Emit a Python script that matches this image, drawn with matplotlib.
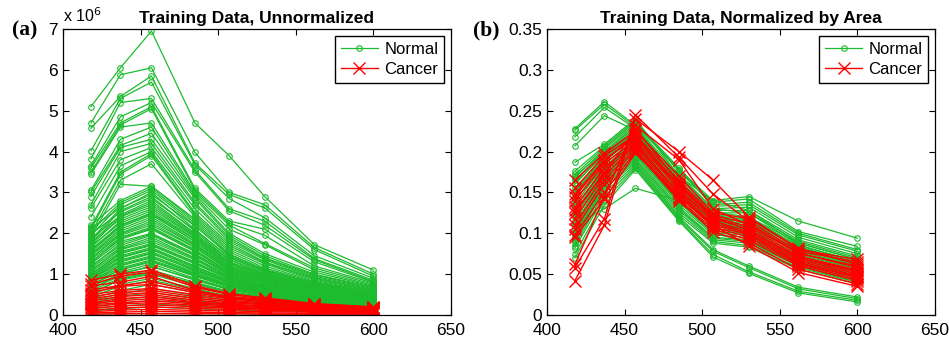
import numpy as np
import matplotlib
matplotlib.use("Agg")
import matplotlib.pyplot as plt

plt.rcParams['font.family'] = ['Liberation Sans', 'DejaVu Sans']

# wavelengths (nm)
wl = [418, 437, 457, 485, 507, 530, 562, 600]

# panel (a): raw intensities, units of 1e6
normal_raw = [
    [5.10, 6.05, 6.95, 4.70, 3.90, 2.90, 1.72, 1.10],
    [4.70, 5.88, 6.05, 3.98, 3.00, 2.70, 1.65, 1.00],
    [4.57, 5.35, 5.85, 3.72, 2.95, 2.62, 1.60, 0.95],
    [4.02, 5.30, 5.70, 3.68, 2.85, 2.38, 1.45, 0.90],
    [3.82, 5.20, 5.30, 3.55, 2.60, 2.30, 1.38, 0.85],
    [3.65, 4.85, 5.20, 3.50, 2.55, 2.20, 1.35, 0.82],
    [3.60, 4.70, 5.10, 3.10, 2.30, 2.10, 1.30, 0.80],
    [3.50, 4.65, 5.05, 3.05, 2.25, 1.95, 1.20, 0.78],
    [3.45, 4.60, 4.70, 3.00, 2.20, 1.75, 1.15, 0.75],
    [3.05, 4.30, 4.60, 2.95, 2.10, 1.72, 1.10, 0.72],
    [3.00, 4.15, 4.45, 2.90, 2.00, 1.50, 1.05, 0.70],
    [2.90, 4.10, 4.30, 2.85, 1.95, 1.45, 1.00, 0.68],
    [2.70, 4.00, 4.20, 2.75, 1.90, 1.40, 0.98, 0.66],
    [2.62, 3.80, 4.10, 2.70, 1.85, 1.38, 0.95, 0.64],
    [2.40, 3.65, 4.00, 2.60, 1.80, 1.35, 0.92, 0.62],
    [2.15, 3.50, 3.95, 2.50, 1.75, 1.30, 0.90, 0.60],
    [2.10, 3.45, 3.90, 2.45, 1.70, 1.28, 0.88, 0.58],
    [2.00, 3.30, 3.70, 2.40, 1.65, 1.25, 0.85, 0.56],
    [1.90, 3.20, 3.15, 2.35, 1.60, 1.20, 0.82, 0.55],
    [2.20, 2.80, 3.15, 2.30, 1.55, 1.15, 0.80, 0.54],
    [2.05, 2.75, 3.10, 2.25, 1.50, 1.10, 0.78, 0.52],
    [1.95, 2.70, 3.05, 2.20, 1.45, 1.08, 0.76, 0.50],
    [1.85, 2.60, 3.00, 2.10, 1.40, 1.05, 0.74, 0.49],
    [1.80, 2.55, 2.90, 2.05, 1.35, 1.02, 0.72, 0.48],
    [1.75, 2.45, 2.80, 2.00, 1.30, 1.00, 0.70, 0.47],
    [1.70, 2.40, 2.70, 1.95, 1.28, 0.98, 0.68, 0.46],
    [1.65, 2.30, 2.60, 1.90, 1.25, 0.95, 0.66, 0.45],
    [1.60, 2.20, 2.50, 1.85, 1.20, 0.92, 0.64, 0.44],
    [1.55, 2.15, 2.45, 1.80, 1.18, 0.90, 0.62, 0.43],
    [1.50, 2.10, 2.40, 1.75, 1.15, 0.88, 0.60, 0.42],
    [1.45, 2.00, 2.30, 1.70, 1.12, 0.85, 0.58, 0.41],
    [1.40, 1.95, 2.20, 1.65, 1.10, 0.82, 0.56, 0.40],
    [1.35, 1.90, 2.15, 1.60, 1.05, 0.80, 0.55, 0.38],
    [1.30, 1.85, 2.10, 1.55, 1.02, 0.78, 0.53, 0.37],
    [1.25, 1.80, 2.00, 1.50, 1.00, 0.75, 0.52, 0.36],
    [1.20, 1.70, 1.95, 1.45, 0.98, 0.72, 0.50, 0.35],
    [1.15, 1.65, 1.90, 1.40, 0.95, 0.70, 0.48, 0.34],
    [1.10, 1.60, 1.80, 1.35, 0.92, 0.68, 0.47, 0.33],
    [1.05, 1.55, 1.75, 1.30, 0.90, 0.66, 0.46, 0.32],
    [1.00, 1.50, 1.70, 1.25, 0.88, 0.64, 0.45, 0.31],
    [0.98, 1.45, 1.65, 1.20, 0.85, 0.62, 0.44, 0.30],
    [0.95, 1.40, 1.60, 1.15, 0.82, 0.60, 0.42, 0.29],
    [0.92, 1.35, 1.55, 1.12, 0.80, 0.58, 0.41, 0.28],
    [0.90, 1.30, 1.50, 1.10, 0.78, 0.56, 0.40, 0.27],
    [0.88, 1.25, 1.45, 1.05, 0.75, 0.55, 0.38, 0.26],
    [0.85, 1.20, 1.40, 1.00, 0.72, 0.53, 0.37, 0.25],
    [0.82, 1.15, 1.35, 0.98, 0.70, 0.52, 0.36, 0.24],
    [0.80, 1.10, 1.30, 0.95, 0.68, 0.50, 0.35, 0.23],
    [0.75, 1.05, 1.25, 0.90, 0.65, 0.48, 0.33, 0.22],
    [0.70, 1.00, 1.20, 0.85, 0.62, 0.46, 0.32, 0.21],
    [0.65, 0.95, 1.10, 0.80, 0.58, 0.44, 0.30, 0.20],
    [0.60, 0.90, 1.05, 0.75, 0.55, 0.42, 0.28, 0.19],
    [0.55, 0.85, 1.00, 0.70, 0.50, 0.40, 0.26, 0.18],
    [0.50, 0.75, 0.90, 0.65, 0.45, 0.36, 0.24, 0.17],
    [0.40, 0.60, 0.75, 0.55, 0.40, 0.32, 0.22, 0.15],
    [0.30, 0.45, 0.55, 0.42, 0.32, 0.26, 0.18, 0.13],
    [0.20, 0.30, 0.35, 0.30, 0.22, 0.18, 0.14, 0.10],
    [0.10, 0.15, 0.20, 0.15, 0.12, 0.10, 0.08, 0.06],
    [0.02, 0.03, 0.04, 0.03, 0.03, 0.02, 0.02, 0.02],
    [2.12, 2.62, 2.95, 2.18, 1.48, 1.12, 0.77, 0.51],
    [1.98, 2.52, 2.85, 2.08, 1.42, 1.06, 0.73, 0.49],
    [1.88, 2.42, 2.75, 1.98, 1.36, 1.01, 0.70, 0.47],
    [1.78, 2.35, 2.65, 1.92, 1.30, 0.97, 0.67, 0.45],
    [1.68, 2.25, 2.55, 1.86, 1.24, 0.93, 0.65, 0.44],
    [1.58, 2.18, 2.48, 1.80, 1.19, 0.91, 0.63, 0.43],
    [1.48, 2.05, 2.35, 1.72, 1.14, 0.86, 0.59, 0.41],
    [1.38, 1.98, 2.25, 1.66, 1.08, 0.82, 0.57, 0.40],
    [1.28, 1.88, 2.12, 1.58, 1.04, 0.79, 0.54, 0.38],
    [1.18, 1.75, 1.98, 1.48, 0.99, 0.74, 0.51, 0.36],
    [1.08, 1.62, 1.85, 1.38, 0.94, 0.69, 0.48, 0.34],
    [0.99, 1.52, 1.72, 1.28, 0.89, 0.65, 0.46, 0.32],
    [0.93, 1.42, 1.62, 1.18, 0.84, 0.61, 0.43, 0.30],
    [0.87, 1.32, 1.52, 1.08, 0.79, 0.57, 0.40, 0.28],
    [0.81, 1.22, 1.42, 1.02, 0.74, 0.54, 0.38, 0.26],
    [0.72, 1.12, 1.32, 0.96, 0.69, 0.51, 0.36, 0.24],
    [0.62, 1.02, 1.18, 0.88, 0.63, 0.47, 0.33, 0.22],
    [0.52, 0.88, 1.02, 0.78, 0.56, 0.42, 0.29, 0.20],
    [0.45, 0.70, 0.85, 0.62, 0.46, 0.36, 0.25, 0.17],
    [0.35, 0.52, 0.65, 0.48, 0.36, 0.29, 0.20, 0.14],
    [0.25, 0.38, 0.45, 0.36, 0.27, 0.22, 0.16, 0.11],
    [0.15, 0.22, 0.27, 0.22, 0.17, 0.14, 0.10, 0.08],
]
cancer_raw = [
    [0.85, 1.00, 1.10, 0.72, 0.52, 0.42, 0.28, 0.20],
    [0.75, 0.95, 1.05, 0.68, 0.50, 0.40, 0.27, 0.19],
    [0.72, 0.80, 0.95, 0.60, 0.45, 0.38, 0.25, 0.18],
    [0.62, 0.72, 0.82, 0.58, 0.44, 0.36, 0.25, 0.18],
    [0.55, 0.70, 0.75, 0.55, 0.42, 0.35, 0.24, 0.17],
    [0.50, 0.60, 0.65, 0.50, 0.40, 0.32, 0.22, 0.16],
    [0.45, 0.55, 0.60, 0.45, 0.36, 0.30, 0.20, 0.15],
    [0.40, 0.50, 0.55, 0.40, 0.33, 0.27, 0.19, 0.14],
    [0.35, 0.45, 0.50, 0.36, 0.30, 0.25, 0.18, 0.13],
    [0.30, 0.40, 0.45, 0.32, 0.27, 0.22, 0.16, 0.12],
    [0.28, 0.35, 0.40, 0.30, 0.25, 0.20, 0.15, 0.11],
    [0.25, 0.30, 0.35, 0.27, 0.22, 0.18, 0.14, 0.10],
    [0.20, 0.27, 0.30, 0.24, 0.20, 0.16, 0.12, 0.09],
    [0.17, 0.22, 0.25, 0.20, 0.17, 0.14, 0.10, 0.08],
    [0.12, 0.17, 0.20, 0.16, 0.14, 0.12, 0.09, 0.07],
    [0.08, 0.12, 0.14, 0.11, 0.10, 0.08, 0.07, 0.05],
    [0.05, 0.07, 0.09, 0.07, 0.06, 0.05, 0.04, 0.04],
    [0.02, 0.03, 0.03, 0.03, 0.03, 0.02, 0.02, 0.02],
]

# panel (b): normalized by area
normal_norm = [
    [0.228, 0.261, 0.232, 0.165, 0.125, 0.105, 0.068, 0.048],
    [0.226, 0.258, 0.230, 0.160, 0.120, 0.100, 0.065, 0.046],
    [0.218, 0.254, 0.228, 0.155, 0.118, 0.098, 0.062, 0.044],
    [0.207, 0.244, 0.226, 0.150, 0.115, 0.095, 0.060, 0.042],
    [0.187, 0.209, 0.240, 0.170, 0.140, 0.145, 0.115, 0.094],
    [0.176, 0.207, 0.238, 0.175, 0.138, 0.142, 0.102, 0.084],
    [0.172, 0.205, 0.236, 0.180, 0.135, 0.138, 0.100, 0.080],
    [0.168, 0.203, 0.234, 0.178, 0.133, 0.135, 0.098, 0.078],
    [0.165, 0.200, 0.230, 0.172, 0.130, 0.132, 0.095, 0.075],
    [0.160, 0.198, 0.228, 0.168, 0.128, 0.128, 0.092, 0.072],
    [0.155, 0.195, 0.225, 0.165, 0.125, 0.125, 0.090, 0.070],
    [0.150, 0.192, 0.222, 0.160, 0.122, 0.120, 0.088, 0.068],
    [0.145, 0.190, 0.220, 0.158, 0.120, 0.118, 0.085, 0.066],
    [0.140, 0.188, 0.218, 0.155, 0.118, 0.115, 0.082, 0.064],
    [0.135, 0.185, 0.215, 0.152, 0.115, 0.112, 0.080, 0.062],
    [0.130, 0.182, 0.212, 0.150, 0.112, 0.110, 0.078, 0.060],
    [0.125, 0.180, 0.210, 0.148, 0.110, 0.108, 0.076, 0.058],
    [0.120, 0.178, 0.208, 0.145, 0.108, 0.105, 0.074, 0.056],
    [0.115, 0.175, 0.205, 0.142, 0.105, 0.102, 0.072, 0.054],
    [0.110, 0.172, 0.202, 0.140, 0.102, 0.100, 0.070, 0.052],
    [0.105, 0.170, 0.200, 0.138, 0.100, 0.098, 0.068, 0.050],
    [0.100, 0.168, 0.198, 0.135, 0.098, 0.095, 0.066, 0.048],
    [0.098, 0.165, 0.195, 0.132, 0.095, 0.092, 0.064, 0.046],
    [0.095, 0.162, 0.192, 0.130, 0.094, 0.090, 0.062, 0.044],
    [0.092, 0.160, 0.190, 0.128, 0.092, 0.088, 0.060, 0.042],
    [0.090, 0.158, 0.188, 0.125, 0.090, 0.085, 0.058, 0.040],
    [0.088, 0.155, 0.186, 0.122, 0.088, 0.083, 0.056, 0.038],
    [0.085, 0.150, 0.184, 0.120, 0.080, 0.060, 0.034, 0.022],
    [0.082, 0.145, 0.182, 0.118, 0.078, 0.058, 0.032, 0.020],
    [0.075, 0.140, 0.180, 0.116, 0.074, 0.053, 0.029, 0.018],
    [0.070, 0.135, 0.178, 0.115, 0.071, 0.051, 0.027, 0.016],
    [0.110, 0.130, 0.155, 0.140, 0.100, 0.090, 0.060, 0.040],
    [0.170, 0.200, 0.232, 0.178, 0.140, 0.128, 0.088, 0.068],
    [0.162, 0.196, 0.226, 0.170, 0.130, 0.125, 0.086, 0.064],
    [0.152, 0.193, 0.224, 0.162, 0.126, 0.120, 0.084, 0.062],
    [0.142, 0.180, 0.216, 0.156, 0.122, 0.116, 0.082, 0.060],
    [0.132, 0.176, 0.214, 0.154, 0.119, 0.113, 0.079, 0.058],
    [0.122, 0.172, 0.206, 0.148, 0.114, 0.110, 0.077, 0.056],
    [0.112, 0.168, 0.200, 0.144, 0.110, 0.106, 0.073, 0.053],
    [0.102, 0.164, 0.196, 0.138, 0.106, 0.100, 0.070, 0.050],
]
cancer_norm = [
    [0.042, 0.110, 0.240, 0.200, 0.165, 0.120, 0.080, 0.068],
    [0.058, 0.118, 0.245, 0.193, 0.148, 0.115, 0.078, 0.065],
    [0.062, 0.145, 0.232, 0.190, 0.130, 0.110, 0.075, 0.060],
    [0.165, 0.198, 0.225, 0.170, 0.125, 0.118, 0.082, 0.062],
    [0.155, 0.195, 0.220, 0.165, 0.122, 0.112, 0.076, 0.058],
    [0.148, 0.190, 0.218, 0.160, 0.120, 0.108, 0.072, 0.055],
    [0.140, 0.185, 0.215, 0.158, 0.118, 0.105, 0.070, 0.052],
    [0.132, 0.180, 0.212, 0.155, 0.115, 0.102, 0.068, 0.050],
    [0.125, 0.175, 0.210, 0.150, 0.112, 0.100, 0.066, 0.048],
    [0.118, 0.170, 0.208, 0.148, 0.110, 0.098, 0.064, 0.046],
    [0.110, 0.165, 0.205, 0.145, 0.108, 0.095, 0.062, 0.044],
    [0.105, 0.160, 0.202, 0.142, 0.105, 0.092, 0.060, 0.042],
    [0.098, 0.150, 0.200, 0.140, 0.102, 0.088, 0.056, 0.038],
    [0.095, 0.142, 0.198, 0.145, 0.110, 0.085, 0.052, 0.035],
    [0.128, 0.172, 0.228, 0.162, 0.120, 0.104, 0.070, 0.054],
    [0.145, 0.188, 0.222, 0.152, 0.116, 0.098, 0.063, 0.047],
]

GREEN = '#1dbb2e'
RED = '#ff0000'

fig = plt.figure(figsize=(9.49, 3.42), dpi=100)
ax1 = fig.add_axes([63/949, 1-315/342, 388/949, 286/342])
ax2 = fig.add_axes([547/949, 1-315/342, 388/949, 286/342])


def draw(ax, normal, cancer, ylim, yticks, yticklabels, title):
    for i, row in enumerate(normal):
        ax.plot(wl, row, color=GREEN, lw=0.9, marker='o', ms=4, mfc='none',
                mew=0.8, label='Normal' if i == 0 else None)
    for i, row in enumerate(cancer):
        ax.plot(wl, row, color=RED, lw=1.0, marker='x', ms=8, mew=1.0,
                label='Cancer' if i == 0 else None)
    ax.set_xlim(400, 650)
    ax.set_ylim(*ylim)
    ax.set_xticks([400, 450, 500, 550, 600, 650])
    ax.set_yticks(yticks)
    ax.set_yticklabels(yticklabels)
    ax.tick_params(direction='in', top=True, right=True, labelsize=12.5,
                   length=4, width=0.8)
    ax.tick_params(axis='x', pad=6)
    for s in ax.spines.values():
        s.set_linewidth(0.9)
    ax.set_title(title, fontsize=12.5, fontweight='bold', pad=4)
    leg = ax.legend(loc='upper right', fontsize=12, fancybox=False,
                    framealpha=1, edgecolor='black', borderaxespad=0.4,
                    handlelength=2.2, borderpad=0.35, labelspacing=0.35,
                    handletextpad=0.4)
    leg.get_frame().set_linewidth(1.0)


draw(ax1, normal_raw, cancer_raw, (0, 7), range(8),
     [str(v) for v in range(8)], 'Training Data, Unnormalized')
draw(ax2, normal_norm, cancer_norm, (0, 0.35),
     [0, 0.05, 0.1, 0.15, 0.2, 0.25, 0.3, 0.35],
     ['0', '0.05', '0.1', '0.15', '0.2', '0.25', '0.3', '0.35'],
     'Training Data, Normalized by Area')

fig.text(63/949, 1-16/342, 'x 10$^{6}$', fontsize=11.5, ha='left', va='center')
fig.text(12/949, 1-30/342, '(a)', fontsize=15.5, fontweight='bold',
         family='Liberation Serif', ha='left', va='center')
fig.text(473/949, 1-30/342, '(b)', fontsize=15.5, fontweight='bold',
         family='Liberation Serif', ha='left', va='center')

fig.savefig('out.png', dpi=100)
